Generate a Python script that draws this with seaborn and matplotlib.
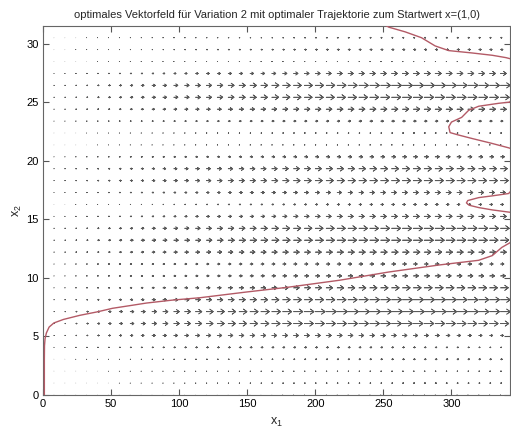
import numpy as np
import pandas as pd
import matplotlib
matplotlib.use("Agg")
import matplotlib.pyplot as plt
import seaborn as sns

# ---------------- data ----------------
# grid of the vector field
x_cols = list(range(0, 337, 8))                       # 43 columns, x1 = 0..336
y_rows = list(np.round(np.linspace(0, 30.5, 31), 3))  # 31 rows

# relative arrow length per row (left part of the field, x1 ~ 50-120)
row_left = [0.0, 0.02, 0.03, 0.08, 0.35, 0.80, 1.00, 0.95, 0.60, 0.35,
            0.30, 0.35, 0.60, 0.75, 0.60, 0.30, 0.10, 0.30, 0.55, 0.50,
            0.25, 0.05, 0.05, 0.25, 0.50, 0.65, 0.60, 0.30, 0.05, 0.10, 0.05]
# relative arrow length per row (right part of the field, x1 ~ 250-340)
row_right = [0.02, 0.12, 0.08, 0.18, 0.12, 0.30, 0.85, 1.00, 1.00, 0.80,
             0.50, 0.35, 0.60, 0.85, 0.90, 0.60, 0.30, 0.50, 0.80, 0.70,
             0.40, 0.05, 0.10, 0.25, 0.60, 0.90, 1.00, 0.60, 0.05, 0.25, 0.15]
# arrow length growth along x1 (one value per column)
col_scale = [0.00, 0.04, 0.07, 0.12, 0.16, 0.21, 0.25, 0.30, 0.35, 0.39,
             0.44, 0.48, 0.53, 0.56, 0.60, 0.64, 0.67, 0.71, 0.74, 0.76,
             0.79, 0.82, 0.85, 0.87, 0.89, 0.91, 0.93, 0.95, 0.96, 0.97,
             0.98, 0.99, 1.00, 1.00, 1.00, 1.00, 1.00, 0.98, 0.96, 0.95,
             0.93, 0.91, 0.89]
max_arrow = 8.0   # longest arrow in x1 units

# optimal trajectory from start value x = (1, 0)
traj_x1 = [1.0, 1.0, 1.1, 1.5, 2.5, 4.5, 8.0, 15.0, 27.0, 40.0, 51.0, 65.0,
           76.0, 95.0, 115.0, 150.0, 180.0, 218.0, 254.0, 291.0, 320.0,
           330.0, 337.0, 343.0, 352.0, 355.0, 350.0, 343.0, 330.0, 320.0,
           313.0, 311.0, 312.0, 320.0, 330.0, 342.0, 352.0, 356.0, 350.0,
           342.0, 329.0, 315.0, 305.0, 299.0, 298.0, 300.0, 307.5, 312.6,
           320.0, 334.6, 342.6, 352.0, 355.0, 350.0, 340.0, 330.0, 315.0,
           298.0, 288.0, 278.0, 266.0, 254.0, 245.0]
traj_x2 = [0.0, 3.0, 4.2, 4.8, 5.3, 5.8, 6.15, 6.45, 6.8, 7.1, 7.4, 7.65,
           7.85, 8.1, 8.3, 8.8, 9.2, 9.8, 10.5, 11.1, 11.5, 11.9, 12.6, 13.0,
           14.0, 15.0, 15.5, 15.6, 15.8, 16.0, 16.2, 16.4, 16.6, 16.85, 17.0,
           17.2, 18.5, 20.0, 20.8, 21.1, 21.5, 21.9, 22.2, 22.4, 22.9, 23.3,
           23.7, 24.3, 24.65, 24.9, 25.0, 26.0, 27.5, 28.5, 28.8, 29.0, 29.2,
           29.4, 29.8, 30.5, 31.0, 31.4, 32.0]

title = "optimales Vektorfeld für Variation 2 mit optimaler Trajektorie zum Startwert x=(1,0)"
x_ticks = [0, 50, 100, 150, 200, 250, 300]
y_ticks = [0, 5, 10, 15, 20, 25, 30]

# ---------------- build the field ----------------
X, Y = np.meshgrid(np.array(x_cols, float), np.array(y_rows, float))
w = (np.arange(len(x_cols)) / (len(x_cols) - 1))[None, :]
rl = np.array(row_left)[:, None]
rr = np.array(row_right)[:, None]
U = max_arrow * np.array(col_scale)[None, :] * ((1 - w) * rl + w * rr)
V = np.zeros_like(U)

# ---------------- plot ----------------
sns.set_theme(style="white")
plt.rcParams["font.family"] = ["Liberation Sans", "DejaVu Sans"]
plt.rcParams["font.size"] = 8

fig = plt.figure(figsize=(5.11, 4.30), dpi=100)
ax = fig.add_axes([43 / 511, 35 / 430, (510 - 43) / 511, (395 - 26) / 430])

# MATLAB-like line arrows: zero-width shaft and open (chevron) heads
ax.quiver(X, Y, U, V, angles="xy", scale_units="xy", scale=1,
          facecolor="none", edgecolor="#5a5a5a", linewidth=0.55,
          width=0.0004, headwidth=28, headlength=19, headaxislength=0,
          minshaft=2, minlength=0.5, zorder=2)

traj = pd.DataFrame({"x1": traj_x1, "x2": traj_x2})
sns.lineplot(data=traj, x="x1", y="x2", sort=False, estimator=None, ax=ax,
             color="#b35a66", linewidth=1.0, zorder=3)

ax.set_xlim(0, 343)
ax.set_ylim(0, 31.5)
ax.set_xticks(x_ticks)
ax.set_yticks(y_ticks)
ax.tick_params(direction="in", length=4, width=0.8, colors="#555555",
               labelcolor="black", labelsize=8, top=True, right=True,
               bottom=True, left=True, pad=3)
for s in ax.spines.values():
    s.set_visible(True)
    s.set_color("#666666")
    s.set_linewidth(0.8)

ax.set_xlabel(r"$\mathregular{x_1}$", fontsize=9, labelpad=5)
ax.set_ylabel(r"$\mathregular{x_2}$", fontsize=9, labelpad=2)
ax.set_title(title, fontsize=8, pad=6)

fig.savefig("out.png", dpi=100)
